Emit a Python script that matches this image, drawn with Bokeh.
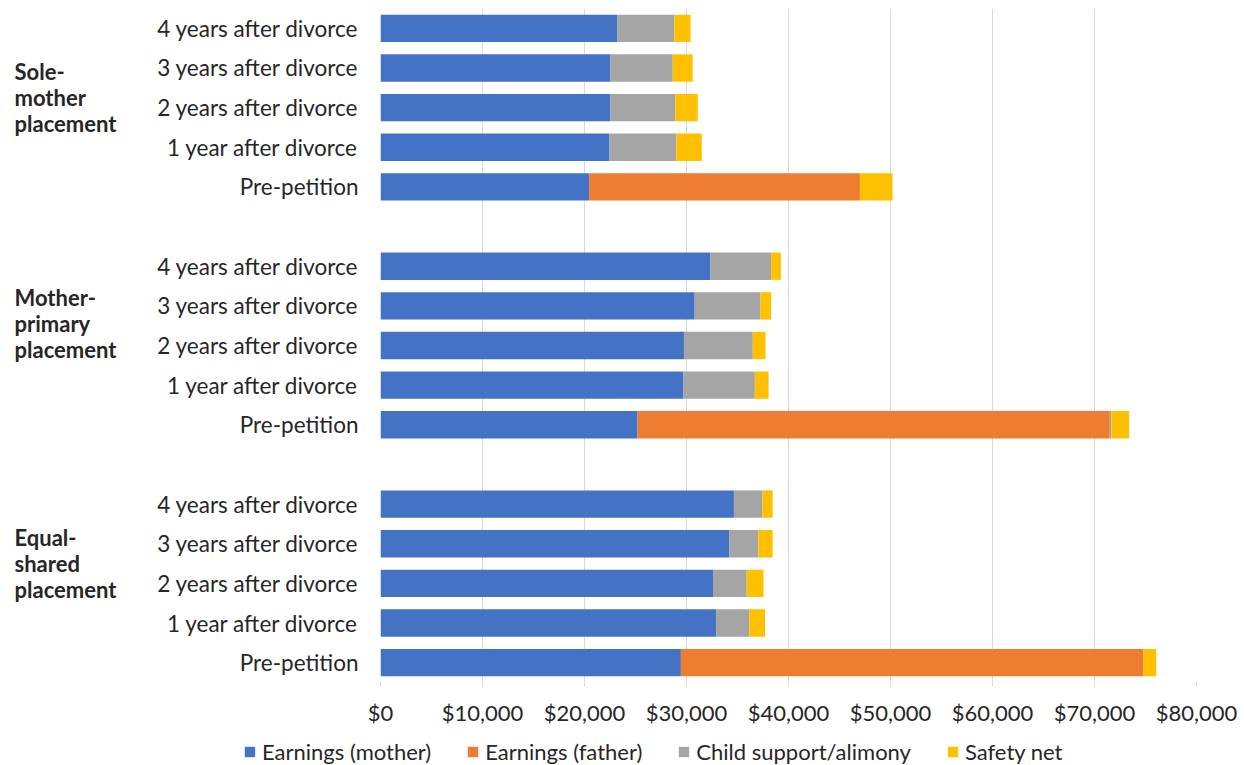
import numpy as np
from bokeh.plotting import figure
from bokeh.layouts import column, row
from bokeh.models import Range1d, FixedTicker, NumeralTickFormatter
from bokeh.core.properties import value
from bokeh.embed import file_html
from bokeh.resources import INLINE

# ---- data -------------------------------------------------------------
groups = ["Sole-\nmother\nplacement", "Mother-\nprimary\nplacement", "Equal-\nshared\nplacement"]
periods = ["4 years after divorce", "3 years after divorce", "2 years after divorce",
           "1 year after divorce", "Pre-petition"]

# values per group, in the order of `periods`
earnings_mother = [23200, 22550, 22550, 22450, 20450,
                   32350, 30800, 29750, 29700, 25200,
                   34650, 34200, 32600, 32900, 29450]
earnings_father = [0, 0, 0, 0, 26550,
                   0, 0, 0, 0, 46300,
                   0, 0, 0, 0, 45350]
child_support = [5600, 6100, 6350, 6550, 0,
                 5950, 6450, 6750, 7000, 150,
                 2800, 2850, 3300, 3250, 0]
safety_net = [1600, 1950, 2200, 2500, 3200,
              950, 1050, 1250, 1350, 1750,
              1000, 1400, 1650, 1550, 1250]

x_ticks = [0, 10000, 20000, 30000, 40000, 50000, 60000, 70000, 80000]

series = ["Earnings (mother)", "Earnings (father)", "Child support/alimony", "Safety net"]
colors = ["#4472C4", "#ED7D31", "#A5A5A5", "#FFC000"]

# ---- row slots: one blank slot between groups ---------------------------
n_per = len(periods)
slot = []
labels = []
for g in range(len(groups)):
    for i, per in enumerate(periods):
        slot.append(g * (n_per + 1) + i)
        labels.append(per)
n_slots = len(groups) * (n_per + 1) - 1

source = dict(y=slot, mother=earnings_mother, father=earnings_father,
              support=child_support, safety=safety_net)

FONT = "Lato"
FS = "22px"
TXT = "#262626"
GRID = "#d9d9d9"

LEFT_W = 150
TOP_H = 728
y_range = Range1d(n_slots - 0.5, -0.5)

# ---- main chart ---------------------------------------------------------
p = figure(width=1244 - LEFT_W, height=TOP_H, output_backend="svg", toolbar_location=None,
           x_range=Range1d(0, 80000), y_range=y_range,
           min_border_left=380 - LEFT_W, min_border_right=48, min_border_top=8,
           min_border_bottom=TOP_H - 682)
p.outline_line_color = None

p.hbar_stack(["mother", "father", "support", "safety"], y="y", height=0.69,
             color=colors, line_color=None, source=source)

p.xaxis.ticker = FixedTicker(ticks=x_ticks)
p.xaxis.formatter = NumeralTickFormatter(format="$0,0")
p.xaxis.axis_line_color = None
p.xaxis.major_tick_line_color = GRID
p.xaxis.major_tick_out = 4
p.xaxis.major_tick_in = 0
p.xaxis.minor_tick_line_color = None
p.xaxis.major_label_text_font = FONT
p.xaxis.major_label_text_font_size = FS
p.xaxis.major_label_text_color = TXT
p.xaxis.major_label_standoff = 12

p.yaxis.ticker = FixedTicker(ticks=slot)
p.yaxis.major_label_overrides = {s: lab for s, lab in zip(slot, labels)}
p.yaxis.axis_line_color = None
p.yaxis.major_tick_line_color = None
p.yaxis.major_tick_out = 0
p.yaxis.major_tick_in = 0
p.yaxis.minor_tick_line_color = None
p.yaxis.major_label_text_font = FONT
p.yaxis.major_label_text_font_size = "22.5px"
p.yaxis.major_label_text_color = TXT
p.yaxis.major_label_standoff = 22

p.xgrid.grid_line_color = GRID
p.xgrid.ticker = FixedTicker(ticks=x_ticks)
p.ygrid.grid_line_color = None

# ---- group captions, sharing the row scale ------------------------------
g = figure(width=LEFT_W, height=TOP_H, output_backend="svg", toolbar_location=None,
           x_range=Range1d(0, LEFT_W), y_range=y_range,
           x_axis_type=None, y_axis_type=None,
           min_border_left=0, min_border_right=0, min_border_top=8,
           min_border_bottom=TOP_H - 682)
g.outline_line_color = None
group_y = [1.75, 7.45, 13.5]
g.text(x=[14] * len(groups), y=group_y, text=groups, text_font=value(FONT),
       text_font_size=FS, text_font_style="bold", text_color=TXT,
       text_align="left", text_baseline="middle", text_line_height=0.97)

# ---- legend strip --------------------------------------------------------
LEG_H = 765 - TOP_H
lg = figure(width=1244, height=LEG_H, output_backend="svg", toolbar_location=None,
            x_range=Range1d(0, 1), y_range=Range1d(0, 1),
            x_axis_type=None, y_axis_type=None, min_border=0)
lg.outline_line_color = None
for s, c in zip(series, colors):
    # swatch-only renderers: nothing is drawn in the strip itself
    lg.hbar(y=np.array([np.nan]), right=np.array([np.nan]), height=0.5,
            color=c, line_color=None, legend_label=s)
leg = lg.legend[0]
leg.orientation = "horizontal"
leg.location = (243, 0)
leg.glyph_width = 13
leg.glyph_height = 13
leg.label_standoff = 6
leg.spacing = 35
leg.padding = 0
leg.margin = 0
leg.border_line_color = None
leg.background_fill_alpha = 0
leg.label_text_font = FONT
leg.label_text_font_size = FS
leg.label_text_color = TXT

layout = column(row(g, p), lg)
open("out.html", "w").write(file_html(layout, INLINE))
